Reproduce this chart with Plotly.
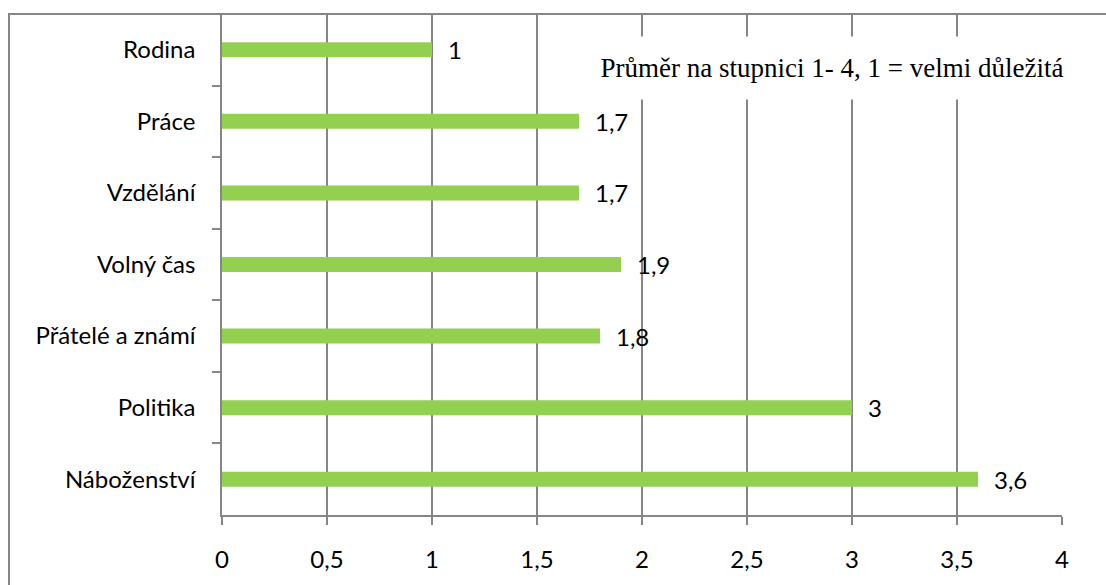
import plotly.graph_objects as go

categories = ["Rodina", "Práce", "Vzdělání", "Volný čas", "Přátelé a známí", "Politika", "Náboženství"]
values = [1, 1.7, 1.7, 1.9, 1.8, 3, 3.6]
value_labels = ["1", "1,7", "1,7", "1,9", "1,8", "3", "3,6"]
x_ticks = [0, 0.5, 1, 1.5, 2, 2.5, 3, 3.5, 4]
x_tick_labels = ["0", "0,5", "1", "1,5", "2", "2,5", "3", "3,5", "4"]
note = "Průměr na stupnici 1- 4, 1 = velmi důležitá"

W, H = 1106, 585
ML, MR, MT, MB = 222, 44, 14, 68
PW = W - ML - MR
PH = H - MT - MB

GRID = "#868686"
FONT = "Lato, 'Open Sans', sans-serif"
FS = 24

fig = go.Figure()
fig.add_trace(go.Bar(
    x=values, y=categories, orientation="h",
    marker=dict(color="#92D050", line=dict(width=0)),
    width=0.21, hoverinfo="skip",
))

for v, c, t in zip(values, categories, value_labels):
    fig.add_annotation(x=v, y=c, text=t, showarrow=False, xanchor="left",
                       xshift=14, font=dict(family=FONT, size=FS, color="black"))

fig.add_annotation(
    x=(832 - ML) / PW, y=(H - MB - 68) / PH, xref="paper", yref="paper",
    xanchor="center", yanchor="middle",
    text=note, showarrow=False, bgcolor="white", width=490, height=60,
    font=dict(family="'Liberation Serif', 'Times New Roman', serif", size=27, color="black"),
)

# outer chart border
fig.add_shape(type="rect", xref="paper", yref="paper",
              x0=(9 - ML) / PW, x1=1.2, y0=-0.3, y1=1.0,
              line=dict(color=GRID, width=2), fillcolor="rgba(0,0,0,0)", layer="above")

fig.update_layout(
    width=W, height=H,
    margin=dict(l=ML, r=MR, t=MT, b=MB),
    paper_bgcolor="white", plot_bgcolor="white",
    separators=", ",
    showlegend=False,
    bargap=0.79,
    xaxis=dict(
        range=[0, 4], tickvals=x_ticks, ticktext=x_tick_labels,
        showgrid=True, gridcolor=GRID, gridwidth=1.5,
        showline=True, linecolor=GRID, linewidth=1.5,
        ticks="outside", ticklen=8, tickcolor=GRID, tickwidth=1.5,
        ticklabelstandoff=14,
        zeroline=False,
        tickfont=dict(family=FONT, size=FS, color="black"),
    ),
    yaxis=dict(
        type="category", autorange="reversed",
        tickson="boundaries", showgrid=False,
        showline=True, linecolor=GRID, linewidth=1.5,
        ticks="outside", ticklen=8, tickcolor=GRID, tickwidth=1.5,
        ticklabelstandoff=20,
        tickfont=dict(family=FONT, size=FS, color="black"),
    ),
)

fig.write_html("out.html")
